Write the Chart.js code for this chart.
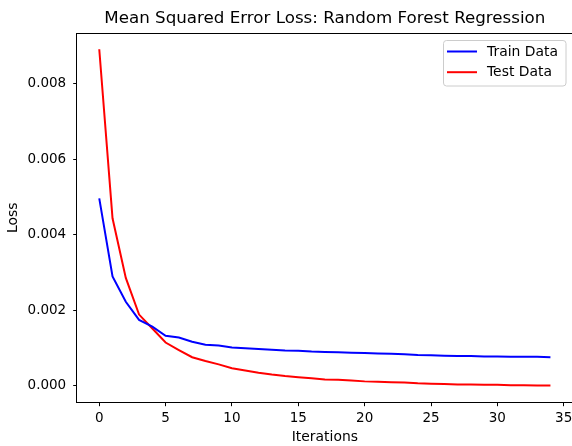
<!DOCTYPE html>
<html>
<head>
<meta charset="utf-8">
<script src="https://cdn.jsdelivr.net/npm/chart.js@4"></script>
<style>
  html, body { margin: 0; padding: 0; background: #fff; overflow: hidden; }
  #wrap { position: relative; width: 580px; height: 446px; }
</style>
</head>
<body>
<div id="wrap"><canvas id="loss"></canvas></div>
<script>
const iterations = [0, 1, 2, 3, 4, 5, 6, 7, 8, 9, 10, 11, 12, 13, 14, 15, 16, 17,
    18, 19, 20, 21, 22, 23, 24, 25, 26, 27, 28, 29, 30, 31, 32, 33, 34];

const trainLoss = [0.00497, 0.00290, 0.00223, 0.00175, 0.00157, 0.00133, 0.00128, 0.00117,
    0.00109, 0.00107, 0.00102, 0.00100, 0.00098, 0.00096, 0.00094, 0.00093, 0.00091, 0.00090,
    0.00089, 0.00088, 0.00087, 0.00086, 0.00085, 0.00084, 0.00082, 0.00081, 0.00080, 0.00079,
    0.00079, 0.00078, 0.00078, 0.00077, 0.00077, 0.00077, 0.00076];

const testLoss = [0.00892, 0.00444, 0.00286, 0.00189, 0.00152, 0.00115, 0.00095, 0.00076,
    0.00066, 0.00057, 0.00047, 0.00041, 0.00035, 0.00030, 0.00026, 0.00023, 0.00020, 0.00017,
    0.00016, 0.00014, 0.00012, 0.00011, 0.00010, 0.00009, 0.00007, 0.00006, 0.00005, 0.00004,
    0.00004, 0.00003, 0.00003, 0.00002, 0.00002, 0.00001, 0.00001];

const xTicks = [0, 5, 10, 15, 20, 25, 30, 35];
const yTicks = [0, 0.002, 0.004, 0.006, 0.008];

const chartTitle = 'Mean Squared Error Loss: Random Forest Regression';
const FONT = 'DejaVu Sans';

function points(ys) {
    return iterations.map((x, i) => ({ x: x, y: ys[i] }));
}

// title centred over the plot, top/right frame lines, boxed legend
const frameAndLegend = {
    id: 'frameAndLegend',
    afterDraw(chart) {
        const { ctx, chartArea: a } = chart;
        ctx.save();

        ctx.fillStyle = '#000';
        ctx.font = '16.7px "' + FONT + '"';
        ctx.textAlign = 'center';
        ctx.textBaseline = 'middle';
        ctx.fillText(chartTitle, (a.left + a.right) / 2, 18.2);

        ctx.strokeStyle = '#000';
        ctx.lineWidth = 1;
        ctx.beginPath();
        ctx.moveTo(a.left, a.top + 0.5);
        ctx.lineTo(a.right, a.top + 0.5);
        ctx.moveTo(a.right - 0.5, a.top);
        ctx.lineTo(a.right - 0.5, a.bottom);
        ctx.stroke();

        // legend box
        const bx = 443.5, by = 40.5, bw = 122.5, bh = 45.5;
        ctx.fillStyle = 'rgba(255,255,255,0.8)';
        ctx.strokeStyle = '#cccccc';
        ctx.beginPath();
        ctx.roundRect(bx, by, bw, bh, 3);
        ctx.fill();
        ctx.stroke();

        ctx.font = '13.9px "' + FONT + '"';
        ctx.textBaseline = 'middle';
        ctx.textAlign = 'left';
        chart.data.datasets.forEach((ds, i) => {
            const y = 51.5 + i * 20.7;
            ctx.strokeStyle = ds.borderColor;
            ctx.lineWidth = 2;
            ctx.beginPath();
            ctx.moveTo(447, y);
            ctx.lineTo(477, y);
            ctx.stroke();
            ctx.fillStyle = '#000';
            ctx.fillText(ds.label, 487, y + 0.5);
        });
        ctx.restore();
    }
};

new Chart(document.getElementById('loss'), {
    type: 'line',
    data: {
        datasets: [{
            label: 'Train Data',
            data: points(trainLoss),
            borderColor: '#0000ff',
            borderWidth: 2,
            pointRadius: 0,
            tension: 0
        }, {
            label: 'Test Data',
            data: points(testLoss),
            borderColor: '#ff0000',
            borderWidth: 2,
            pointRadius: 0,
            tension: 0
        }]
    },
    options: {
        responsive: true,
        maintainAspectRatio: false,
        animation: false,
        layout: { padding: { left: 0, right: 7, top: 33, bottom: 0 } },
        plugins: {
            legend: { display: false },
            tooltip: { enabled: false },
            title: { display: false }
        },
        scales: {
            x: {
                type: 'linear',
                min: -1.7,
                max: 35.7,
                afterBuildTicks: s => { s.ticks = xTicks.map(v => ({ value: v })); },
                afterFit: s => { s.height = 43.3; },
                grid: { drawOnChartArea: false, drawTicks: true, tickLength: 3.5, color: '#000' },
                border: { display: true, color: '#000', width: 1 },
                ticks: {
                    color: '#000',
                    padding: 4.5,
                    maxRotation: 0,
                    font: { family: FONT, size: 13.5 },
                    callback: v => String(v)
                },
                title: {
                    display: true,
                    text: 'Iterations',
                    color: '#000',
                    font: { family: FONT, size: 13.9 },
                    padding: { top: 0, bottom: 0 }
                }
            },
            y: {
                min: -0.000445,
                max: 0.00935,
                afterBuildTicks: s => { s.ticks = yTicks.map(v => ({ value: v })); },
                afterFit: s => { s.width = 76.7; },
                grid: { drawOnChartArea: false, drawTicks: true, tickLength: 3.5, color: '#000' },
                border: { display: true, color: '#000', width: 1 },
                ticks: {
                    color: '#000',
                    padding: 7,
                    font: { family: FONT, size: 13.5 },
                    callback: v => v.toFixed(3)
                },
                title: {
                    display: true,
                    text: 'Loss',
                    color: '#000',
                    font: { family: FONT, size: 13.9 },
                    padding: { top: 5.5, bottom: 0 }
                }
            }
        }
    },
    plugins: [frameAndLegend]
});
</script>
</body>
</html>
